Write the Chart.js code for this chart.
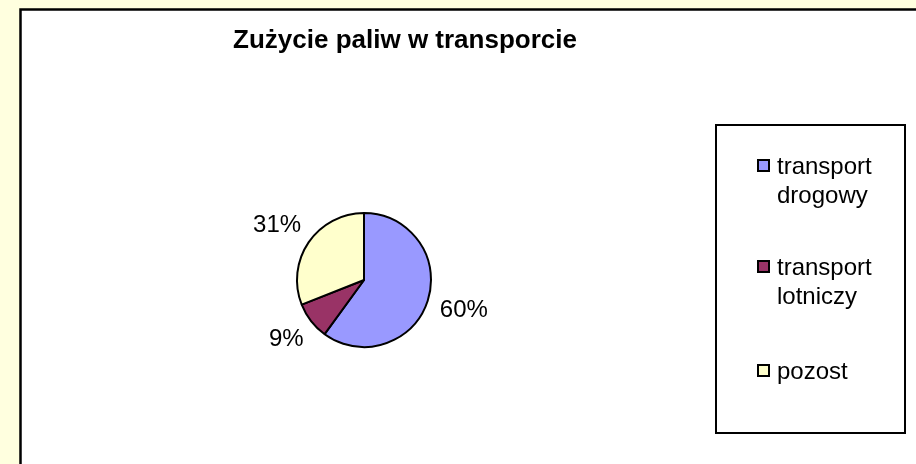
<!DOCTYPE html>
<html>
<head>
<meta charset="utf-8">
<script src="https://cdn.jsdelivr.net/npm/chart.js@4"></script>
<style>
  html, body { margin: 0; padding: 0; background: #FFFFDF; }
  #wrap { width: 916px; height: 464px; }
</style>
</head>
<body>
<div id="wrap"><canvas id="myChart" width="916" height="464"></canvas></div>
<script>
const title = 'Zużycie paliw w transporcie';
const categories = [['transport', 'drogowy'], ['transport', 'lotniczy'], ['pozost']];
const values = [60, 9, 31];
const colors = ['#9999FF', '#993366', '#FFFFCC'];

const FONT = '"Liberation Sans", Arial, sans-serif';

// frame, title, legend and outside labels drawn by hand, Excel style
const excelLook = {
  id: 'excelLook',
  beforeDraw(chart) {
    const c = chart.ctx;
    c.save();
    c.fillStyle = '#FFFFDF';
    c.fillRect(0, 0, chart.width, chart.height);
    c.fillStyle = '#ffffff';
    c.fillRect(20, 9, chart.width, chart.height);
    c.strokeStyle = '#000';
    c.lineWidth = 2.5;
    c.beginPath();
    c.moveTo(20.5, chart.height + 5);
    c.lineTo(20.5, 9.5);
    c.lineTo(chart.width + 5, 9.5);
    c.stroke();
    c.restore();
  },
  afterDraw(chart) {
    const c = chart.ctx;
    c.save();
    // title
    c.fillStyle = '#000';
    c.font = 'bold 26px ' + FONT;
    c.textAlign = 'center';
    c.textBaseline = 'middle';
    c.fillText(title, 405, 41);

    // percent labels, pushed out so the text box sits just off the rim
    const meta = chart.getDatasetMeta(0);
    const total = values.reduce((a, b) => a + b, 0);
    c.font = '24px ' + FONT;
    meta.data.forEach((arc, i) => {
      const txt = Math.round(values[i] / total * 100) + '%';
      const w = c.measureText(txt).width;
      const a = (arc.startAngle + arc.endAngle) / 2;
      const dx = Math.cos(a), dy = Math.sin(a);
      const r = arc.outerRadius + 14;
      const x = arc.x + dx * r + dx * w / 2;
      const y = arc.y + dy * r + dy * 16;
      c.fillText(txt, x, y);
    });

    // legend box
    c.lineWidth = 2;
    c.strokeStyle = '#000';
    c.strokeRect(716, 125, 189, 308);
    const itemY = [166, 267, 371];
    c.textAlign = 'left';
    c.font = '24px ' + FONT;
    categories.forEach((lines, i) => {
      c.fillStyle = colors[i];
      c.fillRect(758, itemY[i] - 6, 11, 11);
      c.lineWidth = 2;
      c.strokeRect(758, itemY[i] - 6, 11, 11);
      c.fillStyle = '#000';
      lines.forEach((t, j) => c.fillText(t, 777, itemY[i] + 1 + j * 29));
    });
    c.restore();
  }
};

new Chart(document.getElementById('myChart'), {
  type: 'pie',
  data: {
    labels: categories.map(l => l.join(' ')),
    datasets: [{
      data: values,
      backgroundColor: colors,
      borderColor: '#000',
      borderWidth: 2,
      hoverOffset: 0
    }]
  },
  options: {
    responsive: false,
    animation: false,
    layout: { padding: { left: 296, right: 484, top: 212, bottom: 116 } },
    plugins: {
      legend: { display: false },
      tooltip: { enabled: false }
    }
  },
  plugins: [excelLook]
});
</script>
</body>
</html>
